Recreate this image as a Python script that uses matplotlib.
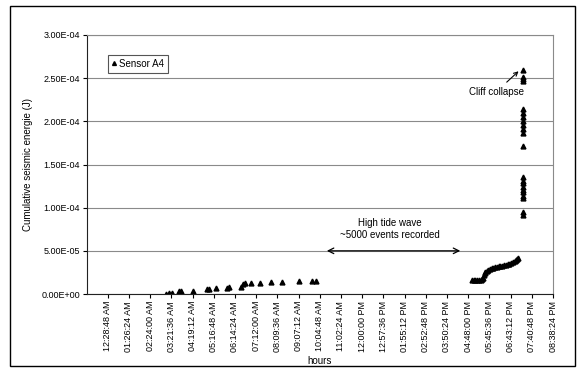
import matplotlib
matplotlib.use("Agg")
import matplotlib.pyplot as plt
from matplotlib.patches import Rectangle

plt.rcParams['font.family'] = ['Liberation Sans', 'DejaVu Sans']

# tick labels on the time axis (Excel style, every 57:36)
tick_labels = ['12:28:48 AM', '01:26:24 AM', '02:24:00 AM', '03:21:36 AM', '04:19:12 AM',
               '05:16:48 AM', '06:14:24 AM', '07:12:00 AM', '08:09:36 AM', '09:07:12 AM',
               '10:04:48 AM', '11:02:24 AM', '12:00:00 PM', '12:57:36 PM', '01:55:12 PM',
               '02:52:48 PM', '03:50:24 PM', '04:48:00 PM', '05:45:36 PM', '06:43:12 PM',
               '07:40:48 PM', '08:38:24 PM']

# morning events (hours, J)
morning_h = [3.11, 3.26, 3.41, 3.70, 3.78, 4.33, 4.96, 5.08, 5.38, 5.87, 5.99,
             6.52, 6.62, 6.70, 6.97, 7.38, 7.86, 8.36, 9.16, 9.72, 9.91]
morning_e = [0.5e-6, 1.2e-6, 1.7e-6, 3.2e-6, 3.8e-6, 4.0e-6, 5.8e-6, 6.0e-6, 6.6e-6, 7.5e-6, 7.7e-6,
             8.0e-6, 1.20e-5, 1.27e-5, 1.27e-5, 1.32e-5, 1.38e-5, 1.44e-5, 1.50e-5, 1.55e-5, 1.55e-5]

# evening events after the high tide gap
evening_h = [16.98, 17.05, 17.12, 17.20, 17.28, 17.36, 17.42, 17.46, 17.50, 17.54, 17.58,
             17.64, 17.70, 17.78, 17.86, 17.94, 18.02, 18.10, 18.18, 18.26, 18.34, 18.42,
             18.50, 18.58, 18.66, 18.74, 18.82, 18.90, 18.96, 19.01, 19.05]
evening_e = [1.60e-5, 1.60e-5, 1.62e-5, 1.62e-5, 1.63e-5, 1.65e-5, 1.70e-5, 1.90e-5, 2.20e-5,
             2.40e-5, 2.55e-5, 2.65e-5, 2.80e-5, 2.92e-5, 3.00e-5, 3.06e-5, 3.10e-5, 3.15e-5,
             3.20e-5, 3.24e-5, 3.28e-5, 3.32e-5, 3.38e-5, 3.45e-5, 3.52e-5, 3.60e-5, 3.68e-5,
             3.78e-5, 3.90e-5, 4.02e-5, 4.15e-5]

# cliff collapse burst
collapse_h = [19.30] * 22
collapse_e = [9.1e-5, 9.5e-5, 1.11e-4, 1.14e-4, 1.18e-4, 1.21e-4, 1.24e-4, 1.28e-4, 1.31e-4,
              1.35e-4, 1.72e-4, 1.87e-4, 1.91e-4, 1.96e-4, 2.00e-4, 2.05e-4, 2.10e-4, 2.14e-4,
              2.465e-4, 2.49e-4, 2.51e-4, 2.60e-4]


def to_hours(lbl):
    t, ampm = lbl.split()
    hh, mm, ss = [int(v) for v in t.split(':')]
    hh = hh % 12 + (12 if ampm == 'PM' else 0)
    return hh + mm / 60.0 + ss / 3600.0


tick_pos = [to_hours(l) for l in tick_labels]

fig = plt.figure(figsize=(5.81, 3.69), dpi=100, facecolor='w')
ax = fig.add_axes([87 / 581, 1 - 294 / 369, 466 / 581, 259 / 369])

hours = morning_h + evening_h + collapse_h
energy = morning_e + evening_e + collapse_e
ax.plot(hours, energy, linestyle='none', marker='^', ms=3.5, color='black', label='Sensor A4')

ax.set_xlim(-0.46, tick_pos[-1])
ax.set_ylim(0, 3.0e-4)
yt = [i * 5e-5 for i in range(7)]
ax.set_yticks(yt)
ax.set_yticklabels(['%.2fE%+03d' % (v / 10 ** (int(('%e' % v).split('e')[1])), int(('%e' % v).split('e')[1])) if v else '0.00E+00' for v in yt], fontsize=6.5)
ax.set_xticks(tick_pos)
ax.set_xticklabels(tick_labels, rotation=90, fontsize=6.5)
ax.tick_params(length=3, width=0.8, pad=2)
ax.grid(axis='y', color='#8a8a8a', lw=0.8)
ax.set_axisbelow(True)
for s in ['top', 'right']:
    ax.spines[s].set_color('#8a8a8a')
for s in ['left', 'bottom']:
    ax.spines[s].set_color('#222222')

ax.set_ylabel('Cumulative seismic energie (J)', fontsize=7, labelpad=6)
ax.set_xlabel('hours', fontsize=7, labelpad=3)

leg = ax.legend(loc='upper left', bbox_to_anchor=(0.045, 0.923), fontsize=7, frameon=True,
                fancybox=False, edgecolor='#555555', framealpha=1, handlelength=0.5,
                handletextpad=0.2, borderpad=0.4, borderaxespad=0, markerscale=0.8)
leg.get_frame().set_linewidth(0.8)

# annotations
ax.annotate('Cliff collapse', xy=(19.08, 2.58e-4), xytext=(18.07, 2.342e-4),
            fontsize=7, ha='center', va='center',
            arrowprops=dict(arrowstyle='->', lw=0.8, color='black', shrinkA=2, shrinkB=0))
ax.annotate('', xy=(10.40, 5e-5), xytext=(16.44, 5e-5),
            arrowprops=dict(arrowstyle='<->', lw=0.9, color='black', shrinkA=0, shrinkB=0))
ax.text(13.27, 8.2e-5, 'High tide wave', fontsize=7, ha='center', va='center')
ax.text(13.27, 6.8e-5, '~5000 events recorded', fontsize=7, ha='center', va='center')

fig.patches.append(Rectangle((10 / 581, 3 / 369), 565 / 581, 360 / 369, transform=fig.transFigure,
                             fill=False, edgecolor='black', lw=1.0))

plt.savefig('out.png', dpi=100)
